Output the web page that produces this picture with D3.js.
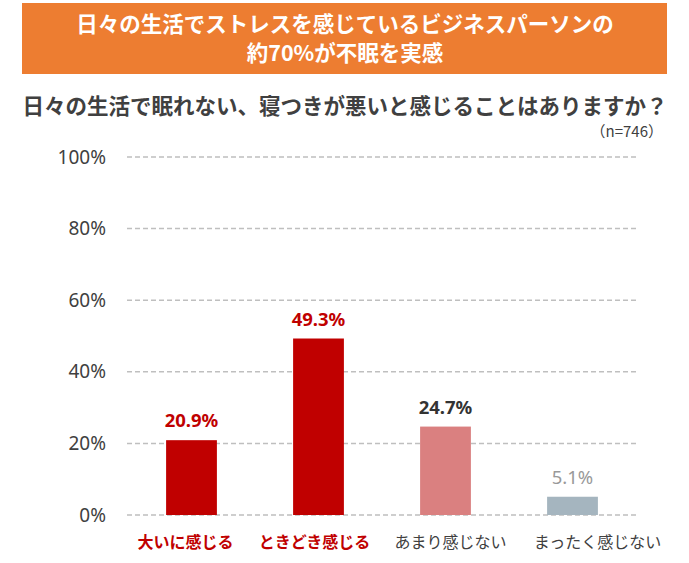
<!DOCTYPE html>
<html>
<head>
<meta charset="utf-8">
<script src="https://cdn.jsdelivr.net/npm/d3@7"></script>
<style>
  body { margin: 0; background: #fff; }
  text { font-family: "Noto Sans CJK JP", "Noto Sans", sans-serif; }
</style>
</head>
<body>
<script>
// data
const categories = ["大いに感じる", "ときどき感じる", "あまり感じない", "まったく感じない"];
const values = [20.9, 49.3, 24.7, 5.1];
const tickValues = [0, 20, 40, 60, 80, 100];
const barColors = ["#c00000", "#c00000", "#da8080", "#a5b5bf"];
const labelColors = ["#c00000", "#c00000", "#333333", "#999999"];
const labelBold = [true, true, true, false];
const catColors = ["#c00000", "#c00000", "#404040", "#404040"];

const width = 689, height = 563;

// category labels sit a bit off-center in the original
const catNudge = [-6, -4, 5, 25];

const svg = d3.select("body").append("svg")
    .attr("width", width)
    .attr("height", height);

// banner
svg.append("rect")
    .attr("x", 22).attr("y", 3)
    .attr("width", 645).attr("height", 71)
    .attr("fill", "#ed7d31");

const bannerText = ["日々の生活でストレスを感じているビジネスパーソンの", "約70%が不眠を実感"];
svg.append("g")
  .selectAll("text")
  .data(bannerText)
  .join("text")
    .attr("x", 345)
    .attr("y", (d, i) => 32 + i * 29)
    .attr("text-anchor", "middle")
    .attr("fill", "#fff")
    .attr("font-size", 21.5)
    .attr("font-weight", "bold")
    .text(d => d);

svg.append("text")
    .attr("x", 345).attr("y", 114)
    .attr("text-anchor", "middle")
    .attr("fill", "#404040")
    .attr("font-size", 21.5)
    .attr("font-weight", "bold")
    .text("日々の生活で眠れない、寝つきが悪いと感じることはありますか？");

svg.append("text")
    .attr("x", 663).attr("y", 137)
    .attr("text-anchor", "end")
    .attr("fill", "#404040")
    .attr("font-size", 15)
    .text("（n=746）");

// scales
const x = d3.scaleBand()
    .domain(categories)
    .range([128, 636])
    .paddingInner(0.6)
    .paddingOuter(0.3);

const y = d3.scaleLinear()
    .domain([0, 100])
    .range([515, 157]);

// grid
svg.append("g")
  .selectAll("line")
  .data(tickValues)
  .join("line")
    .attr("x1", 127).attr("x2", 637)
    .attr("y1", d => y(d)).attr("y2", d => y(d))
    .attr("stroke", "#bfbfbf")
    .attr("stroke-width", 1.5)
    .attr("stroke-dasharray", "5,3");

// y axis labels
const yAxis = d3.axisLeft(y)
    .tickValues(tickValues)
    .tickFormat(d => d + "%")
    .tickSize(0)
    .tickPadding(0);

svg.append("g")
    .attr("transform", "translate(106,0)")
    .call(yAxis)
    .call(g => g.select(".domain").remove())
    .call(g => g.selectAll("text")
        .attr("font-size", 19)
        .attr("fill", "#404040")
        .style("font-family", "'Noto Sans', sans-serif"));

// bars
svg.append("g")
  .selectAll("rect")
  .data(values)
  .join("rect")
    .attr("x", (d, i) => x(categories[i]))
    .attr("y", d => y(d))
    .attr("width", x.bandwidth())
    .attr("height", d => y(0) - y(d))
    .attr("fill", (d, i) => barColors[i]);

// value labels
svg.append("g")
  .selectAll("text")
  .data(values)
  .join("text")
    .attr("x", (d, i) => x(categories[i]) + x.bandwidth() / 2)
    .attr("y", d => y(d) - 13)
    .attr("text-anchor", "middle")
    .attr("font-size", 18.5)
    .attr("font-weight", (d, i) => labelBold[i] ? "bold" : "normal")
    .attr("fill", (d, i) => labelColors[i])
    .style("font-family", "'Noto Sans', sans-serif")
    .text(d => d.toFixed(1) + "%");

// category labels
svg.append("g")
  .selectAll("text")
  .data(categories)
  .join("text")
    .attr("x", (d, i) => x(d) + x.bandwidth() / 2 + catNudge[i])
    .attr("y", 548)
    .attr("text-anchor", "middle")
    .attr("font-size", 16)
    .attr("font-weight", (d, i) => i < 2 ? "bold" : "normal")
    .attr("fill", (d, i) => catColors[i])
    .text(d => d);
</script>
</body>
</html>
